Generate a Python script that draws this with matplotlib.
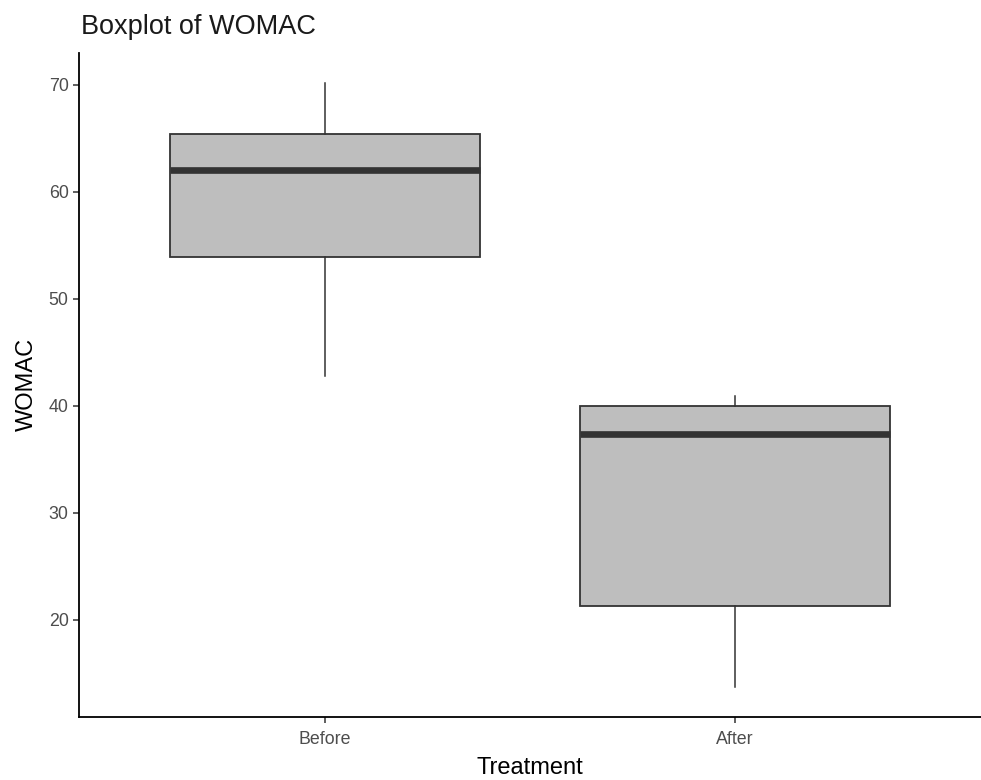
import matplotlib.pyplot as plt

# %% Data
groups = ["Before", "After"]
whisker_low = [42.8, 13.7]
q1 = [53.9, 21.3]
median = [62.05, 37.35]
q3 = [65.4, 40.0]
whisker_high = [70.15, 40.9]

# %% Style
plt.rcParams.update(
    {
        "font.family": ["Liberation Sans", "DejaVu Sans"],
        "axes.spines.right": False,
        "axes.spines.top": False,
    }
)
EDGE = "#333333"
FILL = "#BEBEBE"

fig = plt.figure(figsize=(9.81, 7.8), dpi=100)
ax = fig.add_axes([0.0805, 0.081, 0.9195, 0.851])

stats = [
    {"label": g, "whislo": lo, "q1": a, "med": m, "q3": b, "whishi": hi}
    for g, lo, a, m, b, hi in zip(groups, whisker_low, q1, median, q3, whisker_high)
]
ax.bxp(
    stats,
    positions=[1, 2],
    widths=0.755,
    showfliers=False,
    showcaps=False,
    patch_artist=True,
    boxprops={"facecolor": FILL, "edgecolor": EDGE, "linewidth": 1.3},
    medianprops={"color": EDGE, "linewidth": 4.8, "solid_capstyle": "butt"},
    whiskerprops={"color": EDGE, "linewidth": 1.1},
)

ax.set_xlim(0.4, 2.6)
ax.set_ylim(10.9, 72.97)
ax.set_yticks([20, 30, 40, 50, 60, 70])
ax.set_xticks([1, 2])
ax.set_xticklabels(groups)
ax.tick_params(axis="both", labelsize=12.8, labelcolor="#4D4D4D", color="#333333", length=4, width=1.1)
ax.tick_params(axis="x", pad=6)
for side in ["left", "bottom"]:
    ax.spines[side].set_linewidth(1.3)
    ax.spines[side].set_color("black")

ax.set_xlabel("Treatment", fontsize=17, labelpad=7)
ax.set_ylabel("WOMAC", fontsize=17, labelpad=8)
fig.text(0.0826, 0.966, "Boxplot of WOMAC", fontsize=19.5, ha="left", va="center", color="#1a1a1a")

fig.savefig("out.png", dpi=100)
